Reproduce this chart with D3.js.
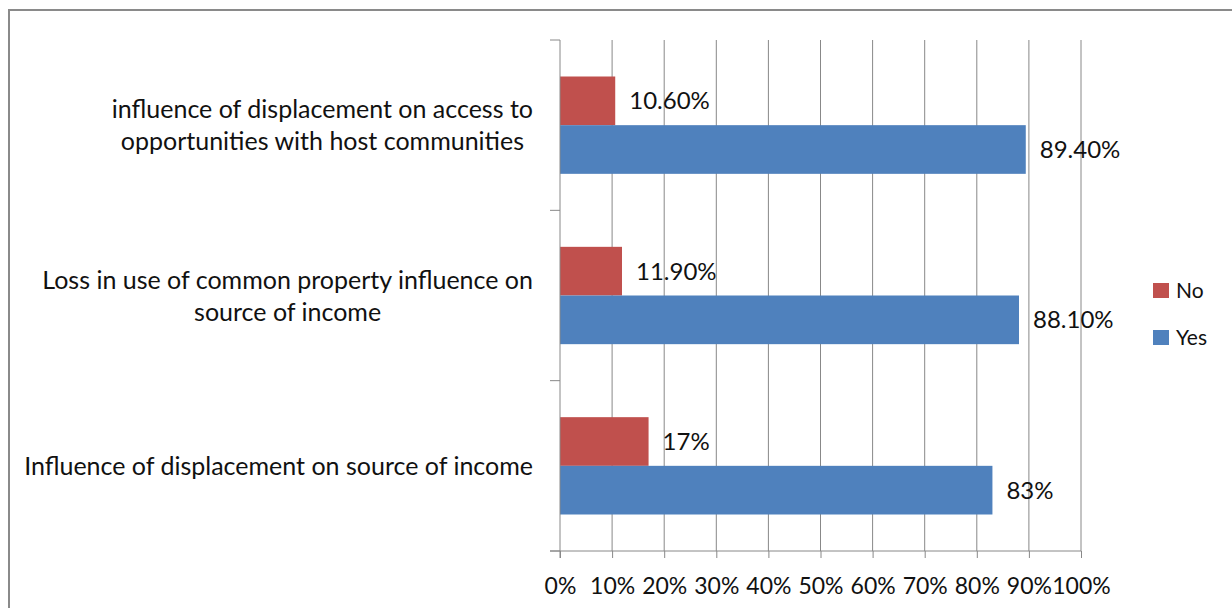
<!DOCTYPE html>
<html>
<head>
<meta charset="utf-8">
<script src="https://cdn.jsdelivr.net/npm/d3@7"></script>
<style>
  html, body { margin: 0; padding: 0; background: #fff; }
  svg { display: block; font-family: Lato, "Open Sans", sans-serif; }
</style>
</head>
<body>
<svg id="chart" width="1232" height="608"></svg>
<script>
const categories = [
    ['influence of displacement on access to', 'opportunities with host communities'],
    ['Loss in use of common property influence on', 'source of income'],
    ['Influence of displacement on source of income']
];
const seriesNames = ['No', 'Yes'];
const noValues  = [10.6, 11.9, 17];
const yesValues = [89.4, 88.1, 83];
const noLabels  = ['10.60%', '11.90%', '17%'];
const yesLabels = ['89.40%', '88.10%', '83%'];
const xTicks = [0, 10, 20, 30, 40, 50, 60, 70, 80, 90, 100];

const colors = { No: '#c0504d', Yes: '#4f81bd' };
const gridColor = '#888888';

const svg = d3.select('#chart');
const plotLeft = 560, plotRight = 1081, plotTop = 40, plotBottom = 551;

const rows = categories.map((c, i) => ({
    idx: i,
    lines: c,
    No: noValues[i], Yes: yesValues[i],
    NoLabel: noLabels[i], YesLabel: yesLabels[i]
}));

const x = d3.scaleLinear().domain([0, 100]).range([plotLeft, plotRight]);
const y = d3.scaleBand().domain(rows.map(d => d.idx)).range([plotTop, plotBottom]).padding(0);
const ySub = d3.scaleBand().domain(seriesNames).range([0, y.bandwidth()])
    .paddingInner(0).paddingOuter(0.75);

// outer frame
svg.append('rect')
    .attr('x', 9).attr('y', 10)
    .attr('width', 1240).attr('height', 620)
    .attr('fill', 'none')
    .attr('stroke', '#8a8a8a')
    .attr('stroke-width', 2);

// gridlines
svg.append('g')
    .selectAll('line')
    .data(xTicks.slice(1))
    .join('line')
    .attr('x1', d => x(d)).attr('x2', d => x(d))
    .attr('y1', plotTop).attr('y2', plotBottom)
    .attr('stroke', gridColor)
    .attr('stroke-width', 1);

// bars
const groups = svg.append('g')
    .selectAll('g')
    .data(rows)
    .join('g')
    .attr('transform', d => `translate(0,${y(d.idx)})`);

seriesNames.forEach(s => {
    groups.append('rect')
        .attr('x', x(0))
        .attr('y', ySub(s))
        .attr('width', d => x(d[s]) - x(0))
        .attr('height', ySub.bandwidth())
        .attr('fill', colors[s]);
    groups.append('text')
        .attr('x', d => x(d[s]) + 14)
        .attr('y', ySub(s) + ySub.bandwidth() / 2)
        .attr('dy', '0.36em')
        .attr('font-size', 24)
        .attr('fill', '#111')
        .text(d => d[s + 'Label']);
});

// bottom axis
const xAxis = svg.append('g')
    .attr('transform', `translate(0,${plotBottom})`)
    .call(d3.axisBottom(x).tickValues(xTicks).tickSize(7).tickPadding(20)
        .tickFormat(d => d + '%'));
xAxis.select('.domain').remove();
xAxis.selectAll('.tick line').attr('stroke', gridColor);
xAxis.selectAll('.tick text').attr('font-size', 23).attr('fill', '#111')
    .attr('font-family', 'Lato, sans-serif');
xAxis.append('line')
    .attr('x1', plotLeft - 10).attr('x2', plotRight)
    .attr('stroke', gridColor);

// left axis
svg.append('line')
    .attr('x1', plotLeft).attr('x2', plotLeft)
    .attr('y1', plotTop).attr('y2', plotBottom + 7)
    .attr('stroke', gridColor);
svg.append('g')
    .selectAll('line')
    .data(d3.range(rows.length + 1))
    .join('line')
    .attr('x1', plotLeft - 10).attr('x2', plotLeft)
    .attr('y1', d => plotTop + d * y.step()).attr('y2', d => plotTop + d * y.step())
    .attr('stroke', gridColor);

// category labels (lines centered in a block whose right edge is at 533)
const catG = svg.append('g');
rows.forEach(d => {
    const cy = y(d.idx) + y.bandwidth() / 2;
    const t = catG.append('text')
        .attr('font-size', 25)
        .attr('fill', '#111')
        .attr('text-anchor', 'middle');
    const n = d.lines.length;
    d.lines.forEach((line, i) => {
        t.append('tspan')
            .attr('x', 0)
            .attr('y', cy + (i - (n - 1) / 2) * 32)
            .attr('dy', '0.36em')
            .text(line);
    });
    const w = t.node().getBBox().width;
    t.selectAll('tspan').attr('x', 533 - w / 2);
});

// legend
const legend = svg.append('g').attr('transform', 'translate(1153,283)');
seriesNames.forEach((s, i) => {
    const g = legend.append('g').attr('transform', `translate(0,${i * 47})`);
    g.append('rect').attr('width', 16).attr('height', 15).attr('fill', colors[s]);
    g.append('text')
        .attr('x', 23).attr('y', 7.5).attr('dy', '0.36em')
        .attr('font-size', 21).attr('fill', '#111')
        .text(s);
});
</script>
</body>
</html>
